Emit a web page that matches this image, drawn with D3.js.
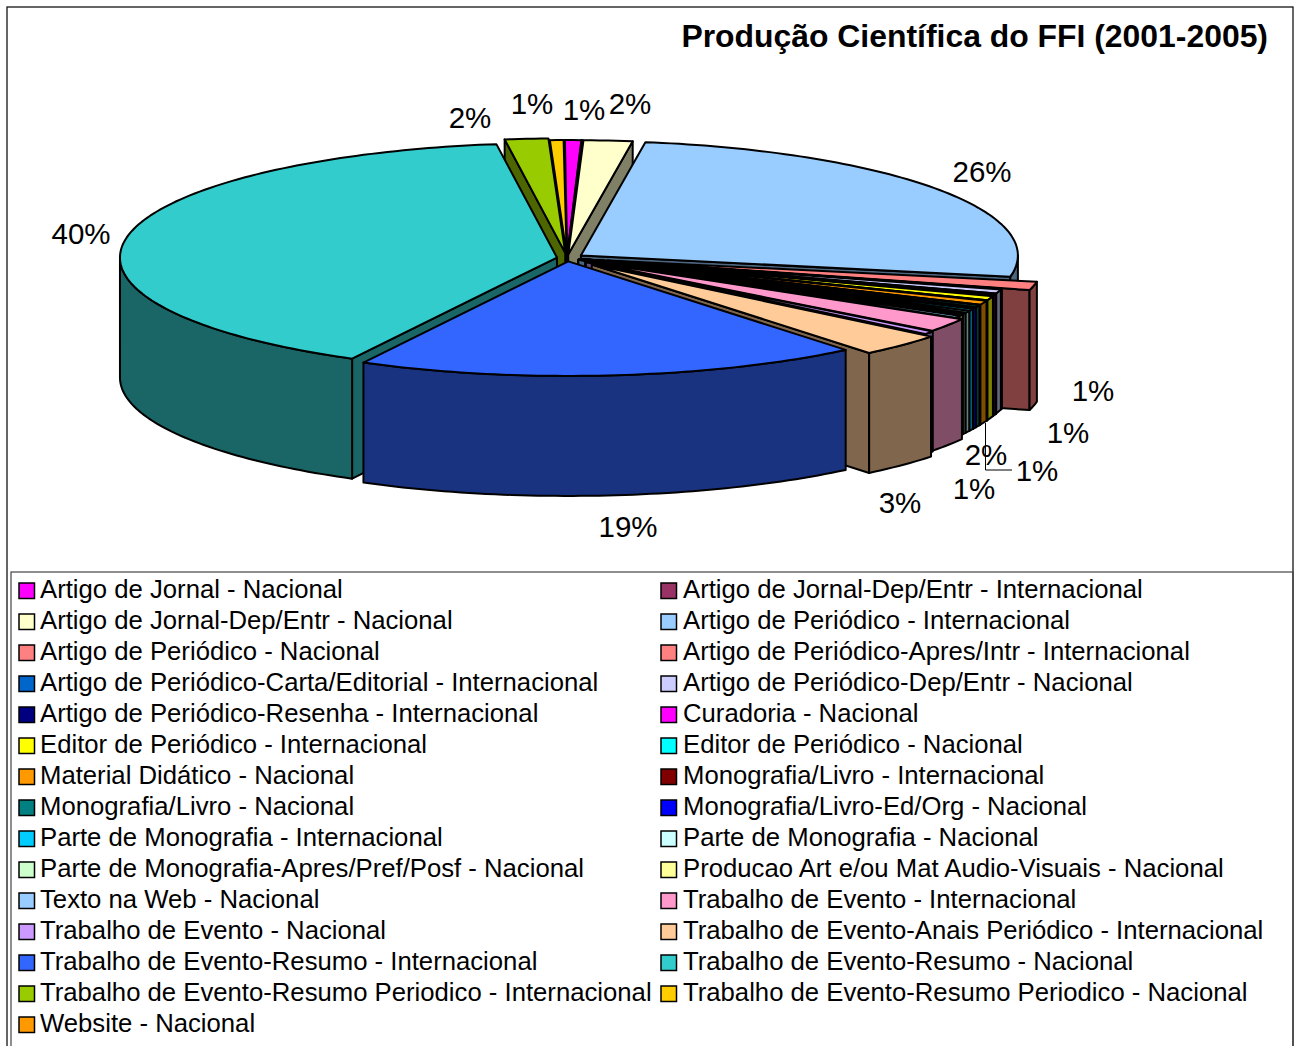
<!DOCTYPE html>
<html><head><meta charset="utf-8">
<script src="https://cdn.jsdelivr.net/npm/d3@7/dist/d3.min.js"></script>
<style>html,body{margin:0;padding:0;background:#fff;overflow:hidden}svg{display:block}text{font-family:"Liberation Sans",Arial,sans-serif;fill:#000}</style>
</head><body><svg id="c" width="1300" height="1046"></svg>
<script>
const categories = ["Artigo de Jornal - Nacional","Artigo de Jornal-Dep/Entr - Internacional","Artigo de Jornal-Dep/Entr - Nacional","Artigo de Periódico - Internacional","Artigo de Periódico - Nacional","Artigo de Periódico-Apres/Intr - Internacional","Artigo de Periódico-Carta/Editorial - Internacional","Artigo de Periódico-Dep/Entr - Nacional","Artigo de Periódico-Resenha - Internacional","Curadoria - Nacional","Editor de Periódico - Internacional","Editor de Periódico - Nacional","Material Didático - Nacional","Monografia/Livro - Internacional","Monografia/Livro - Nacional","Monografia/Livro-Ed/Org - Nacional","Parte de Monografia - Internacional","Parte de Monografia - Nacional","Parte de Monografia-Apres/Pref/Posf - Nacional","Producao Art e/ou Mat Audio-Visuais - Nacional","Texto na Web - Nacional","Trabalho de Evento - Internacional","Trabalho de Evento - Nacional","Trabalho de Evento-Anais Periódico - Internacional","Trabalho de Evento-Resumo - Internacional","Trabalho de Evento-Resumo - Nacional","Trabalho de Evento-Resumo Periodico - Internacional","Trabalho de Evento-Resumo Periodico - Nacional","Website - Nacional"];
const values = [0.6,0.04,1.8,25.6,1.2,0.03,0.08,0.6,0.1,0.25,0.6,0.06,0.6,0.06,0.3,0.25,0.3,0.3,0.2,0.25,0.3,1.95,0.45,3.2,18.7,40.0,1.6,0.5,0.03];
const colors = ["#FF00FF","#993366","#FFFFCC","#99CCFF","#FF8080","#FF8080","#0066CC","#CCCCFF","#000080","#FF00FF","#FFFF00","#00FFFF","#FF9900","#800000","#008080","#0000FF","#00CCFF","#CCFFFF","#CCFFCC","#FFFF99","#99CCFF","#FF99CC","#CC99FF","#FFCC99","#3366FF","#33CCCC","#99CC00","#FFCC00","#FF9900"];
const sliceLabels = ["1%","2%","26%","1%","1%","1%","1%","2%","3%","19%","40%","2%","1%"];

// layout (not data)
const labelSpots = [[584,109],[630,103],[982,171],[1093,390],[1068,432],[1037,470],[974,488],[986,454],[900,502],[628,526],[81,233],[470,117],[532,103]];
const cx=567, cy=258, Rx=437, Ry=114.5, depth=120, startDeg=-0.3;
const explodeBase=0.03;
const explodeByCategory={3:0.039,25:0.0233,4:0.095,21:0.05,22:0.055,23:0.08,26:0.045};
const svg=d3.select("#c");
const rad=d=>d*Math.PI/180;

const pie=d3.pie().sort(null).startAngle(rad(startDeg)).endAngle(rad(startDeg)+2*Math.PI);
const arcs=pie(values).map((d,i)=>({...d,i,mid:(d.startAngle+d.endAngle)/2,e:explodeByCategory[i]??explodeBase}));
const xS=d3.scaleLinear().domain([-1,1]).range([cx-Rx,cx+Rx]);
const yS=d3.scaleLinear().domain([-1,1]).range([cy-Ry,cy+Ry]);
function P(d,a,r,h){
  const ux=r*Math.sin(a)+d.e*Math.sin(d.mid), uy=-r*Math.cos(a)-d.e*Math.cos(d.mid);
  return [xS(ux),yS(uy)+h];
}
function arcPts(d,a0,a1,h){
  const n=Math.max(2,Math.ceil((a1-a0)/0.02));
  return d3.range(n+1).map(k=>P(d,a0+(a1-a0)*k/n,1,h));
}
const line=d3.line();
const g=svg.append("g").attr("stroke","#000").attr("stroke-width",2).attr("stroke-linejoin","round");
const order=arcs.slice().sort((a,b)=>Math.cos(b.mid)-Math.cos(a.mid));
order.forEach(d=>{
  const top=colors[d.i], c=d3.rgb(top);
  const side=d3.rgb(c.r/2,c.g/2,c.b/2).formatHex();
  const a0=d.startAngle,a1=d.endAngle;
  const quad=(p,q)=>g.append("path").attr("d",line([p,q,[q[0],q[1]+depth],[p[0],p[1]+depth]])+"Z").attr("fill",side);
  if(Math.sin(a0)<0) quad(P(d,0,0,0),P(d,a0,1,0));
  if(Math.sin(a1)>0) quad(P(d,0,0,0),P(d,a1,1,0));
  const w0=Math.max(a0,Math.PI/2), w1=Math.min(a1,3*Math.PI/2);
  if(w1>w0){
    const t=arcPts(d,w0,w1,0), b=arcPts(d,w0,w1,depth).reverse();
    g.append("path").attr("d",line(t.concat(b))+"Z").attr("fill",side);
  }
  const pts=[P(d,0,0,0)].concat(arcPts(d,a0,a1,0));
  g.append("path").attr("d",line(pts)+"Z").attr("fill",top);
});

// leader line
svg.append("path").attr("d","M985.5,423V470H1012").attr("fill","none").attr("stroke","#000").attr("stroke-width",1);

svg.selectAll("text.l").data(sliceLabels).join("text").attr("class","l")
  .attr("x",(d,i)=>labelSpots[i][0]).attr("y",(d,i)=>labelSpots[i][1]).attr("dy","0.36em")
  .attr("text-anchor","middle").attr("font-size",29.5).text(d=>d);

// frame
svg.append("rect").attr("x",7).attr("y",7).attr("width",1286).attr("height",1060).attr("fill","none").attr("stroke","#000").attr("stroke-width",1.2);
svg.append("rect").attr("x",11).attr("y",572).attr("width",1282).attr("height",490).attr("fill","none").attr("stroke","#444").attr("stroke-width",1.2);

svg.append("text").attr("x",1268).attr("y",36).attr("dy","0.36em").attr("text-anchor","end").attr("font-size",31.9).attr("font-weight","bold").text("Produção Científica do FFI (2001-2005)");

// legend
const rowY=d3.scaleLinear().domain([0,14]).range([589,1023]);
const colX=[18,660];
const leg=svg.selectAll("g.leg").data(categories).join("g").attr("class","leg")
  .attr("transform",(d,i)=>`translate(${colX[i%2]},${rowY(Math.floor(i/2))})`);
leg.append("rect").attr("x",1).attr("y",-6).attr("width",15.5).attr("height",15.5).attr("stroke","#000").attr("stroke-width",1.5).attr("fill",(d,i)=>colors[i]);
leg.append("text").attr("x",(d,i)=>i%2?23:22).attr("y",-0.5).attr("dy","0.36em").attr("font-size",25.7).text(d=>d);
</script></body></html>
